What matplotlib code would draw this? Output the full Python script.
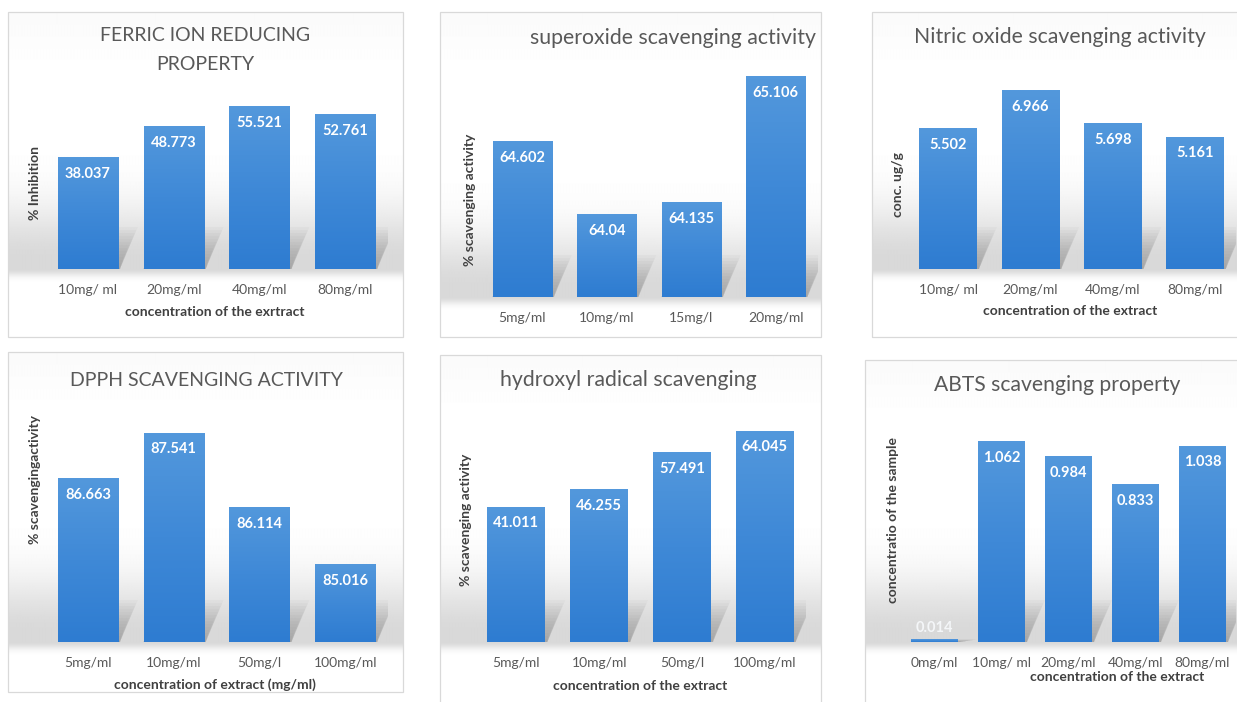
import numpy as np
import matplotlib
matplotlib.use("Agg")
import matplotlib.pyplot as plt
from matplotlib.patches import Rectangle, Polygon
from matplotlib.colors import LinearSegmentedColormap

plt.rcParams["font.family"] = ["Lato", "DejaVu Sans"]

W, H = 1237, 702

# -- data ----------------------------------------------------------------------
ferric_labels = ["10mg/ ml", "20mg/ml", "40mg/ml", "80mg/ml"]
ferric_values = [38.037, 48.773, 55.521, 52.761]

superoxide_labels = ["5mg/ml", "10mg/ml", "15mg/l", "20mg/ml"]
superoxide_values = [64.602, 64.04, 64.135, 65.106]

nitric_labels = ["10mg/ ml", "20mg/ml", "40mg/ml", "80mg/ml"]
nitric_values = [5.502, 6.966, 5.698, 5.161]

dpph_labels = ["5mg/ml", "10mg/ml", "50mg/l", "100mg/ml"]
dpph_values = [86.663, 87.541, 86.114, 85.016]

hydroxyl_labels = ["5mg/ml", "10mg/ml", "50mg/l", "100mg/ml"]
hydroxyl_values = [41.011, 46.255, 57.491, 64.045]

abts_labels = ["0mg/ml", "10mg/ ml", "20mg/ml", "40mg/ml", "80mg/ml"]
abts_values = [0.014, 1.062, 0.984, 0.833, 1.038]

# -- layout (pixels in the 1237x702 canvas) -------------------------------------
panels = [
    dict(labels=ferric_labels, values=ferric_values,
         title="FERRIC ION REDUCING\nPROPERTY", title_xy=(205, 50), title_size=14,
         xlabel="concentration of the exrtract", xlabel_xy=(215, 312),
         ylabel="% Inhibition", ylabel_xy=(35, 183),
         frame=(8, 12, 403, 337), box=(45, 388, 93, 269), ylim=(0, 60)),
    dict(labels=superoxide_labels, values=superoxide_values,
         title="superoxide scavenging activity", title_xy=(673, 38), title_size=15.3,
         xlabel=None, xlabel_xy=None,
         ylabel="% scavenging activity", ylabel_xy=(470, 200),
         frame=(440, 12, 821, 337), box=(480, 818, 64, 297), ylim=(63.4, 65.2)),
    dict(labels=nitric_labels, values=nitric_values,
         title="Nitric oxide scavenging activity", title_xy=(1060, 37), title_size=15.3,
         xlabel="concentration of the extract", xlabel_xy=(1070, 311),
         ylabel="conc. ug/g", ylabel_xy=(898, 185),
         frame=(872, 12, 1250, 337), box=(907, 1236, 64, 269), ylim=(0, 8)),
    dict(labels=dpph_labels, values=dpph_values,
         title="DPPH SCAVENGING ACTIVITY", title_xy=(206, 380), title_size=14,
         xlabel="concentration of extract (mg/ml)", xlabel_xy=(215, 685),
         ylabel="% scavengingactivity", ylabel_xy=(35, 480),
         frame=(8, 352, 403, 692), box=(45, 388, 409, 642), ylim=(83.51, 88.0)),
    dict(labels=hydroxyl_labels, values=hydroxyl_values,
         title="hydroxyl radical scavenging", title_xy=(628, 380), title_size=15.3,
         xlabel="concentration of the extract", xlabel_xy=(640, 686),
         ylabel="% scavenging activity", ylabel_xy=(466, 520),
         frame=(440, 355, 821, 712), box=(475, 806, 411, 642), ylim=(0, 70)),
    dict(labels=abts_labels, values=abts_values,
         title="ABTS scavenging property", title_xy=(1057, 385), title_size=15.2,
         xlabel="concentration of the extract", xlabel_xy=(1117, 677),
         ylabel="concentratio of the sample", ylabel_xy=(893, 520),
         frame=(865, 360, 1250, 712), box=(901, 1236, 415, 642), ylim=(0, 1.2)),
]

TITLE_COLOR = "#595959"
TICK_COLOR = "#595959"
LABEL_COLOR = "#404040"
bar_cmap = LinearSegmentedColormap.from_list("bar", ["#2e7cd1", "#3f89d7", "#5398dc"])


def fx(x):
    return x / W


def fy(y):
    return 1 - y / H


fig = plt.figure(figsize=(W / 100, H / 100), dpi=100)
fig.patch.set_facecolor("white")

for p in panels:
    x0, y0, x1, y1 = p["frame"]
    left, right, top, bottom = p["box"]

    # background with the grey "floor" band just above the baseline
    bg = fig.add_axes([fx(x0), fy(y1), fx(x1 - x0), (y1 - y0) / H], zorder=0)
    rows = np.arange(y0, y1) + 0.5
    d = bottom - rows
    amt = np.where(d > 8, np.exp(-((d - 8) / 55.0) ** 2), 1.0)
    amt = np.where(d < 0, np.exp(-(d / 7.0) ** 2), amt)
    shade = 1 - 0.15 * amt
    top_fade = np.clip((rows - y0) / 60.0, 0, 1)
    shade = shade - 0.02 * (1 - top_fade)
    bg.imshow(shade[:, None] * np.ones((1, 4)), cmap="gray", vmin=0, vmax=1,
              aspect="auto", extent=[0, 1, 0, 1], interpolation="bilinear")
    bg.set_axis_off()
    fig.patches.append(Rectangle((fx(x0), fy(y1)), fx(x1 - x0), (y1 - y0) / H,
                                 transform=fig.transFigure, fill=False,
                                 edgecolor="#d9d9d9", linewidth=0.9, zorder=5))

    ax = fig.add_axes([fx(left), fy(bottom), fx(right - left), (bottom - top) / H],
                      zorder=1)
    ax.patch.set_alpha(0)
    vals = p["values"]
    n = len(vals)
    xs = np.arange(n)
    ymin, ymax = p["ylim"]
    width = 0.7

    # soft shadows cast up and to the right of each bar
    px_x = (right - left) / n
    px_y = (bottom - top) / (ymax - ymin)
    base = max(ymin, 0)
    steps = 14
    for xi, v in zip(xs, vals):
        hmax = min(42, (v - base) * px_y)
        for k in range(steps):
            h = hmax * (k + 1) / steps
            s = 20 * (k + 1) / steps
            poly = Polygon([(xi - width / 2, base), (xi + width / 2 + 2 / px_x, base),
                            (xi + width / 2 + s / px_x, base + h / px_y),
                            (xi - width / 2 + s / px_x, base + h / px_y)],
                           closed=True, facecolor="#6e6e6e", edgecolor="none",
                           alpha=0.04, zorder=1)
            ax.add_patch(poly)

    bars = ax.bar(xs, vals, width=width, color="#3f89d7", zorder=2)
    grad = np.linspace(0, 1, 64)[:, None]
    for b, v in zip(bars, vals):
        im = ax.imshow(grad, cmap=bar_cmap, origin="lower", aspect="auto",
                       extent=[b.get_x(), b.get_x() + b.get_width(), base, v],
                       zorder=3, interpolation="bilinear")
        im.set_clip_path(b)

    for xi, v in zip(xs, vals):
        if (v - ymin) / (ymax - ymin) < 0.05:
            ax.annotate(f"{v:g}", (xi, v), xytext=(0, 8), textcoords="offset points",
                        ha="center", va="center", color="#f4f6f8",
                        fontsize=10.5, fontweight="bold", zorder=4)
        else:
            ax.annotate(f"{v:g}", (xi, v), xytext=(0, -12), textcoords="offset points",
                        ha="center", va="center", color="white",
                        fontsize=10.5, fontweight="bold", zorder=4)

    ax.set_xlim(-0.5, n - 0.5)
    ax.set_ylim(ymin, ymax)
    ax.set_xticks(xs, p["labels"])
    ax.set_yticks([])
    ax.tick_params(axis="x", length=0, pad=10.5, labelsize=10, labelcolor=TICK_COLOR)
    for sp in ax.spines.values():
        sp.set_visible(False)

    tx, ty = p["title_xy"]
    fig.text(fx(tx), fy(ty), p["title"], ha="center", va="center",
             fontsize=p["title_size"], color=TITLE_COLOR, linespacing=1.9, zorder=6)
    if p["xlabel"]:
        lx, ly = p["xlabel_xy"]
        fig.text(fx(lx), fy(ly), p["xlabel"], ha="center", va="center",
                 fontsize=10, fontweight="bold", color=LABEL_COLOR, zorder=6)
    yx, yy = p["ylabel_xy"]
    fig.text(fx(yx), fy(yy), p["ylabel"], ha="center", va="center", rotation=90,
             fontsize=10, fontweight="bold", color=LABEL_COLOR, zorder=6)

fig.savefig("out.png", dpi=100)
